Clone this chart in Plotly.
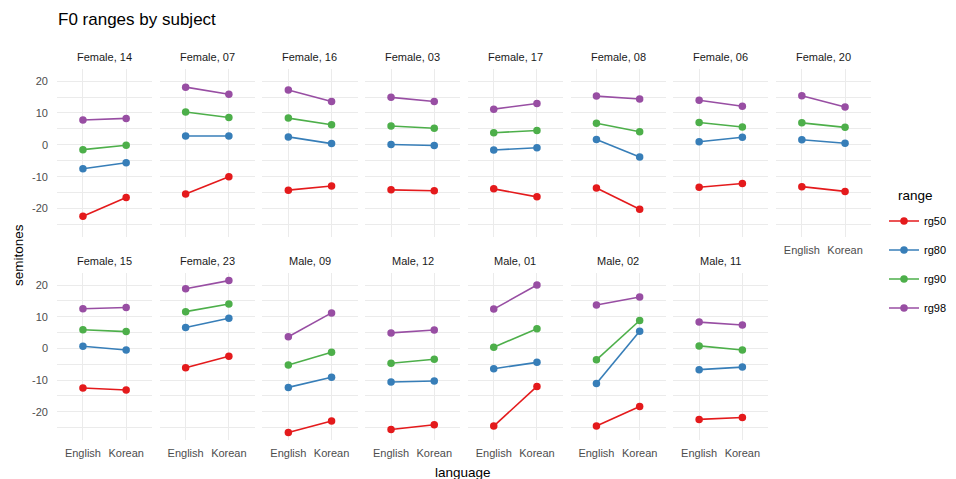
import plotly.graph_objects as go

# ---- data ----
subjects = ["Female, 14", "Female, 07", "Female, 16", "Female, 03", "Female, 17",
            "Female, 08", "Female, 06", "Female, 20", "Female, 15", "Female, 23",
            "Male, 09", "Male, 12", "Male, 01", "Male, 02", "Male, 11"]
languages = ["English", "Korean"]
range_names = ["rg50", "rg80", "rg90", "rg98"]

rg50_english = [-22.4, -15.4, -14.2, -14.1, -13.8, -13.5, -13.3, -13.1, -12.5, -6.1, -26.5, -25.6, -24.5, -24.5, -22.4]
rg50_korean  = [-16.5, -10.0, -12.9, -14.4, -16.3, -20.2, -12.1, -14.6, -13.1, -2.5, -22.9, -24.1, -12.0, -18.3, -21.8]
rg80_english = [-7.5, 2.8, 2.5, 0.1, -1.6, 1.7, 1.0, 1.6, 0.7, 6.6, -12.3, -10.6, -6.4, -11.1, -6.7]
rg80_korean  = [-5.6, 2.8, 0.4, -0.2, -0.9, -3.8, 2.4, 0.5, -0.5, 9.5, -9.1, -10.3, -4.4, 5.4, -5.9]
rg90_english = [-1.5, 10.3, 8.4, 5.9, 3.8, 6.8, 7.0, 6.9, 5.9, 11.6, -5.2, -4.7, 0.4, -3.6, 0.8]
rg90_korean  = [-0.1, 8.6, 6.3, 5.2, 4.5, 4.1, 5.6, 5.5, 5.3, 14.0, -1.2, -3.4, 6.2, 8.8, -0.5]
rg98_english = [7.8, 18.1, 17.2, 14.9, 11.2, 15.3, 14.0, 15.4, 12.5, 18.8, 3.7, 4.9, 12.4, 13.7, 8.3]
rg98_korean  = [8.3, 15.9, 13.6, 13.6, 13.0, 14.4, 12.1, 11.9, 12.9, 21.4, 11.2, 5.8, 20.0, 16.2, 7.4]

y_ticks = [-20, -10, 0, 10, 20]

series = {
    "rg50": (rg50_english, rg50_korean),
    "rg80": (rg80_english, rg80_korean),
    "rg90": (rg90_english, rg90_korean),
    "rg98": (rg98_english, rg98_korean),
}
colors = {"rg50": "#E41A1C", "rg80": "#377EB8", "rg90": "#4DAF4A", "rg98": "#984EA3"}

# ---- layout geometry (page pixels; the page body has an 8px margin) ----
OFF = 8
W, H = 956 - OFF, 479 - OFF
def px(xp):
    return (xp - OFF) / W
def py(yp):
    return 1 - (yp - OFF) / H

ncol = 8
left0, panel_w, gap = 57, 95.1, 7.6
row_top = [69, 273]
row_bot = [237, 440]
FONT = "Liberation Sans, Arial, Helvetica, sans-serif"

allv = [v for e, k in series.values() for v in e + k]
lo, hi = min(allv), max(allv)
span = hi - lo
yrange = [lo - 0.05 * span, hi + 0.05 * span]

fig = go.Figure()
layout = dict(
    width=W, height=H,
    margin=dict(l=0, r=0, t=0, b=0, autoexpand=False),
    paper_bgcolor="white", plot_bgcolor="white",
    font=dict(family=FONT, size=11, color="#4d4d4d"),
    showlegend=True,
)
annotations = []

for i, subj in enumerate(subjects):
    r, c = divmod(i, ncol)
    n = i + 1
    xa = "x" if n == 1 else f"x{n}"
    ya = "y" if n == 1 else f"y{n}"
    x0 = left0 + c * (panel_w + gap)
    x1 = x0 + panel_w
    dom_x = [px(x0), px(x1)]
    dom_y = [py(row_bot[r]), py(row_top[r])]
    show_x = (r == 1) or (i + ncol >= len(subjects))
    layout["xaxis" if n == 1 else f"xaxis{n}"] = dict(
        domain=dom_x, anchor=ya, type="category",
        categoryorder="array", categoryarray=languages,
        range=[-0.6, 1.6], showgrid=True, gridcolor="#ebebeb", gridwidth=1.1,
        zeroline=False, showline=False, ticks="",
        showticklabels=show_x, tickfont=dict(size=11, color="#4d4d4d", family=FONT),
        ticklabelstandoff=5, fixedrange=True,
    )
    layout["yaxis" if n == 1 else f"yaxis{n}"] = dict(
        domain=dom_y, anchor=xa, range=yrange,
        tickvals=y_ticks, ticktext=[str(t) for t in y_ticks],
        showgrid=True, gridcolor="#ebebeb", gridwidth=1.1,
        minor=dict(tickvals=[-25, -15, -5, 5, 15], showgrid=True, gridcolor="#ebebeb", gridwidth=0.55, ticks=""),
        zeroline=False, showline=False, ticks="",
        showticklabels=(c == 0), tickfont=dict(size=11, color="#4d4d4d", family=FONT),
        ticklabelstandoff=8, fixedrange=True,
    )
    annotations.append(dict(
        text=subj, x=px((x0 + x1) / 2), y=py(row_top[r] - 12),
        xref="paper", yref="paper", xanchor="center", yanchor="middle",
        showarrow=False, font=dict(size=11, color="#1a1a1a", family=FONT)))
    for name in range_names:
        eng, kor = series[name]
        fig.add_trace(go.Scatter(
            x=languages, y=[eng[i], kor[i]], mode="lines+markers",
            name=name, legendgroup=name, showlegend=(i == 0),
            line=dict(color=colors[name], width=1.6),
            marker=dict(color=colors[name], size=7.5),
            xaxis=xa, yaxis=ya, hoverinfo="skip"))

# titles
annotations.append(dict(text="F0 ranges by subject", x=px(56), y=py(20),
                        xref="paper", yref="paper", xanchor="left", yanchor="middle",
                        showarrow=False, font=dict(size=17, color="black", family=FONT)))
annotations.append(dict(text="semitones", x=px(18), y=py(255), textangle=-90,
                        xref="paper", yref="paper", xanchor="center", yanchor="middle",
                        showarrow=False, font=dict(size=13.5, color="black", family=FONT)))
annotations.append(dict(text="language", x=px(463), y=py(472),
                        xref="paper", yref="paper", xanchor="center", yanchor="middle",
                        showarrow=False, font=dict(size=13.5, color="black", family=FONT)))
annotations.append(dict(text="range", x=px(896), y=py(195),
                        xref="paper", yref="paper", xanchor="left", yanchor="middle",
                        showarrow=False, font=dict(size=13.5, color="black", family=FONT)))

layout["annotations"] = annotations
layout["legend"] = dict(
    x=px(884), y=py(206.5), xanchor="left", yanchor="top",
    font=dict(size=11, color="black", family=FONT),
    tracegroupgap=10, itemwidth=30, bgcolor="rgba(0,0,0,0)",
)
fig.update_layout(**layout)
fig.write_html("out.html")
